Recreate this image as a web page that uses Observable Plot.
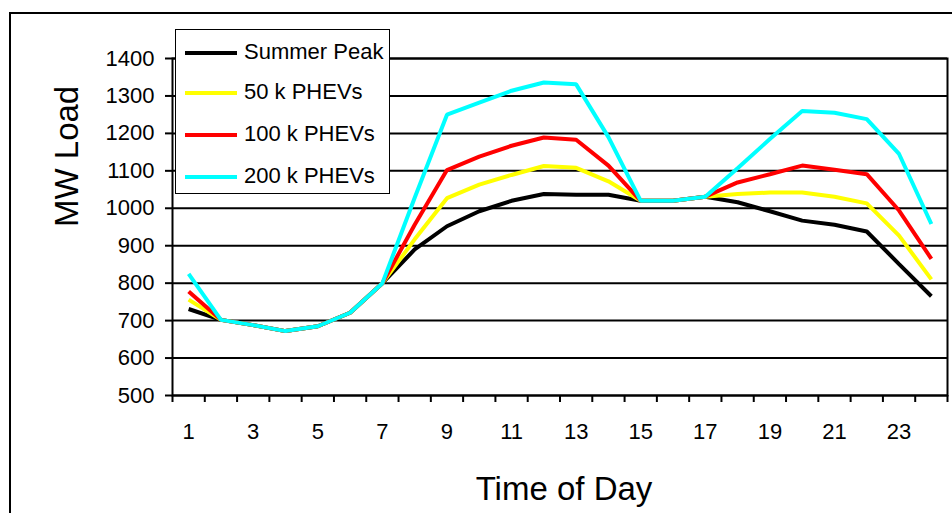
<!DOCTYPE html>
<html><head><meta charset="utf-8">
<script src="https://cdn.jsdelivr.net/npm/d3@7"></script>
<script src="https://cdn.jsdelivr.net/npm/@observablehq/plot@0.6"></script>
<style>
html,body{margin:0;padding:0;background:#fff;overflow:hidden;}
#wrap{position:relative;width:952px;height:513px;overflow:hidden;font-family:"Liberation Sans",Arial,sans-serif;}
#outer{position:absolute;left:9px;top:12px;width:1000px;height:600px;border:2px solid #000;pointer-events:none;}
#legend{position:absolute;left:175px;top:29px;width:215px;height:165px;background:#fff;border:1.5px solid #000;box-sizing:border-box;}
.sw{position:absolute;left:9px;width:52px;height:4px;}
.lbl{position:absolute;left:68px;font-size:22px;white-space:nowrap;line-height:22px;color:#000;}
</style></head>
<body><div id="wrap"><div id="chart"></div><div id="outer"></div><div id="legend"></div></div>
<script>
const hours = [1,2,3,4,5,6,7,8,9,10,11,12,13,14,15,16,17,18,19,20,21,22,23,24];
const seriesNames = ["Summer Peak","50 k PHEVs","100 k PHEVs","200 k PHEVs"];
const seriesColors = ["#000000","#FFFF00","#FF0000","#00FFFF"];
const summerPeak = [731,702,688,672,685,721,800,890,952,992,1020,1038,1036,1036,1020,1020,1031,1016,992,967,956,938,851,765];
const phev50k   = [756,702,688,672,685,721,800,917,1027,1063,1089,1113,1108,1072,1020,1020,1031,1038,1042,1042,1031,1013,927,810];
const phev100k  = [778,702,688,672,685,721,800,956,1102,1138,1167,1189,1183,1114,1020,1020,1031,1069,1091,1114,1103,1091,994,865];
const phev200k  = [825,702,688,672,685,721,800,1028,1250,1282,1314,1336,1331,1190,1020,1020,1031,1107,1185,1260,1255,1238,1145,958];
const yTicks = [500,600,700,800,900,1000,1100,1200,1300,1400];
const xTickLabels = [1,3,5,7,9,11,13,15,17,19,21,23];
const xTitle = "Time of Day";
const yTitle = "MW Load";

const seriesValues = [summerPeak, phev50k, phev100k, phev200k];
const table = [];
seriesNames.forEach((name, s) => hours.forEach((h, i) => table.push({hour: h, value: seriesValues[s][i], series: name})));
const boundaries = d3.range(0.5, hours.length + 1, 1);

const chart = Plot.plot({
  width: 952, height: 513,
  marginLeft: 172, marginRight: 5, marginTop: 58, marginBottom: 118,
  style: {fontFamily: '"Liberation Sans", Arial, sans-serif', fontSize: "22px", color: "#000", background: "transparent"},
  x: {domain: [0.5, hours.length + 0.5]},
  y: {domain: [500, 1400]},
  color: {domain: seriesNames, range: seriesColors},
  marks: [
    Plot.gridY(yTicks, {stroke: "#000", strokeOpacity: 1, strokeWidth: 2}),
    Plot.frame({stroke: "#000", strokeWidth: 2}),
    Plot.axisY({ticks: yTicks, tickSize: 7, tickPadding: 11, fontSize: 22, label: null, strokeWidth: 2, tickFormat: d => String(d)}),
    Plot.axisX({ticks: boundaries, tickSize: 7, tickFormat: () => "", label: null, strokeWidth: 2}),
    Plot.axisX({ticks: xTickLabels, tickSize: 0, tickPadding: 28, fontSize: 22, label: null, tickFormat: d => String(d)}),
    Plot.line(table, {x: "hour", y: "value", stroke: "series", z: "series", strokeWidth: 4, strokeLinejoin: "miter", strokeLinecap: "butt"}),
    Plot.text([yTitle], {frameAnchor: "left", dx: -105, rotate: -90, fontSize: 33, text: d => d}),
    Plot.text([xTitle], {frameAnchor: "bottom", dx: 4, dy: 104, fontSize: 33, text: d => d})
  ]
});
document.getElementById("chart").appendChild(chart);

const legend = document.getElementById("legend");
const ys = [23, 63, 105, 147];
seriesNames.forEach((name, i) => {
  const sw = document.createElement("div");
  sw.className = "sw"; sw.style.top = (ys[i] - 2) + "px"; sw.style.background = seriesColors[i];
  const lb = document.createElement("div");
  lb.className = "lbl"; lb.style.top = (ys[i] - 12) + "px"; lb.textContent = name;
  legend.appendChild(sw); legend.appendChild(lb);
});
</script></body></html>
